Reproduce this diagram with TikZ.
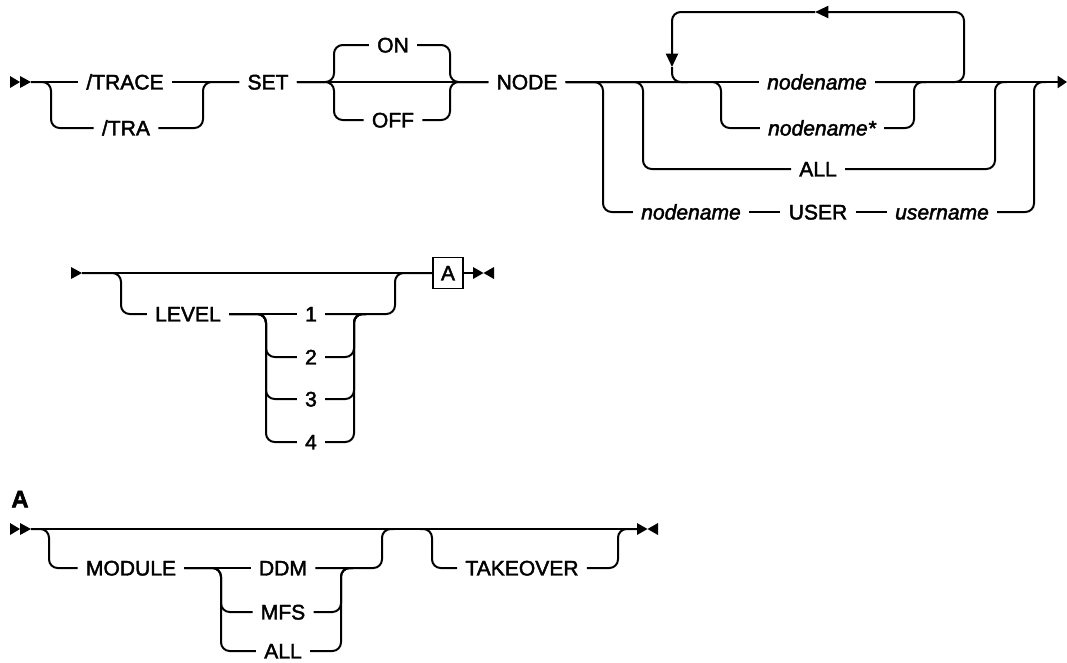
\documentclass[tikz,border=0pt]{standalone}
\usepackage{fontspec}
\setmainfont{Liberation Sans}[FakeBold=2]
\usetikzlibrary{arrows.meta}

\begin{document}
\begin{tikzpicture}[
    x=0.75pt, y=-0.75pt,
    rail/.style={draw=black, line width=1.5pt, rounded corners=6.5pt},
    back/.style={rail, -{Triangle[length=10pt, width=9pt]}},
    kw/.style={font=\fontsize{15.8pt}{18pt}\selectfont, inner xsep=6pt, inner ysep=0pt,
               text height=11.2pt, text depth=0pt},
    var/.style={kw, font=\fontsize{15.8pt}{18pt}\selectfont\itshape},
    frag/.style={kw, draw=black, line width=1.1pt, inner sep=0pt,
                 minimum width=22.5pt, minimum height=23pt},
    head/.style={fill=black},
  ]
  \useasboundingbox[fill=white] (0,0) rectangle (1067,662);
  \begin{scope}
    \fill[head] (10,76) -- (20,82) -- (10,88) -- cycle;
    \fill[head] (20,76) -- (31,82) -- (20,88) -- cycle;
    \coordinate (s1) at (31,82);
    \coordinate (e1) at (1067,82);
    \node[kw] (trace) at (125,82) {/TRACE};
    \node[kw] (tra) at (126,128) {/TRA};
    \node[kw] (set) at (268,82) {SET};
    \node[kw] (on) at (393,45) {ON};
    \node[kw] (off) at (393,120) {OFF};
    \node[kw] (nodekw) at (527,82) {NODE};
    \node[var] (nm) at (817,82) {nodename};
    \node[var] (nmstar) at (822,128) {nodename*};
    \node[kw] (all) at (818,169) {ALL};
    \node[var] (unode) at (691,212) {nodename};
    \node[kw] (user) at (818,212) {USER};
    \node[var] (uname) at (942,212) {username};
    \draw[rail] (s1) -- (trace.west);
    \draw[rail] (s1) -- (51,82) -- (51,128) -- (tra.west);
    \draw[rail] (trace.east) -- (set.west);
    \draw[rail] (tra.east) -- (203,128) -- (203,82) -- (set.west);
    \draw[rail] (set.east) -- (nodekw.west);
    \draw[rail] (set.east) -- (334,82) -- (334,45) -- (on.west);
    \draw[rail] (on.east) -- (450,45) -- (450,82) -- (nodekw.west);
    \draw[rail] (set.east) -- (334,82) -- (334,120) -- (off.west);
    \draw[rail] (off.east) -- (450,120) -- (450,82) -- (nodekw.west);
    \draw[rail] (nodekw.east) -- (nm.west);
    \draw[rail, -{Triangle[length=7pt, width=9pt]}] (nm.east) -- (e1);
    \draw[rail] (nodekw.east) -- (603,82) -- (603,212) -- (unode.west);
    \draw[rail] (unode.east) -- (user.west);
    \draw[rail] (user.east) -- (uname.west);
    \draw[rail] (uname.east) -- (1034,212) -- (1034,82) -- (1046,82);
    \draw[rail] (nodekw.east) -- (643,82) -- (643,169) -- (all.west);
    \draw[rail] (all.east) -- (995,169) -- (995,82) -- (1007,82);
    \draw[rail] (nodekw.east) -- (721,82) -- (721,128) -- (nmstar.west);
    \draw[rail] (nmstar.east) -- (914,128) -- (914,82) -- (926,82);
    \draw[back] (nm.east) -- (964,82) -- (964,12) -- (815,12);
    \draw[back] (815,12) -- (672,12) -- (672,67);
    \draw[rail] (672,67) -- (672,82) -- (688,82);
  \end{scope}
  \begin{scope}
    \fill[head] (71,267) -- (82,273) -- (71,279) -- cycle;
    \coordinate (s2) at (82,273);
    \coordinate (t2) at (473,273);
    \node[kw] (level) at (188,314) {LEVEL};
    \node[kw] (l1) at (311,314) {1};
    \node[kw] (l2) at (311,357) {2};
    \node[kw] (l3) at (311,399) {3};
    \node[kw] (l4) at (311,442) {4};
    \node[frag] (frag) at (448,273) {A};
    \draw[rail] (s2) -- (frag.west);
    \draw[rail] (s2) -- (121,273) -- (121,314) -- (level.west);
    \draw[rail] (level.east) -- (l1.west);
    \draw[rail] (l1.east) -- (395,314) -- (395,273) -- (frag.west);
    \foreach \k/\yy in {2/357, 3/399, 4/442} {
      \draw[rail] (level.east) -- (266,314) -- (266,\yy) -- (l\k.west);
      \draw[rail] (l\k.east) -- (354,\yy) -- (354,314) -- (366,314);
    }
    \draw[rail] (frag.east) -- (t2);
    \fill[head] (473,267) -- (483.5,273) -- (473,279) -- cycle;
    \fill[head] (494,267) -- (483.5,273) -- (494,279) -- cycle;
  \end{scope}
  \begin{scope}
    \node[kw, font=\fontsize{18pt}{20pt}\selectfont\bfseries] (lab) at (20,500) {A};
    \fill[head] (10,523) -- (20,529) -- (10,535) -- cycle;
    \fill[head] (20,523) -- (31,529) -- (20,535) -- cycle;
    \coordinate (s3) at (31,529);
    \coordinate (t3) at (637,529);
    \node[kw] (module) at (131,568) {MODULE};
    \node[kw] (ddm) at (283,568) {DDM};
    \node[kw] (mfs) at (283,612) {MFS};
    \node[kw] (alls) at (283,651) {ALL};
    \node[kw] (takeover) at (522,568) {TAKEOVER};
    \draw[rail] (s3) -- (t3);
    \draw[rail] (s3) -- (49,529) -- (49,568) -- (module.west);
    \draw[rail] (module.east) -- (ddm.west);
    \draw[rail] (ddm.east) -- (382,568) -- (382,529) -- (394,529);
    \foreach \n/\yy in {mfs/612, alls/651} {
      \draw[rail] (module.east) -- (221,568) -- (221,\yy) -- (\n.west);
      \draw[rail] (\n.east) -- (341,\yy) -- (341,568) -- (353,568);
    }
    \draw[rail] (420,529) -- (432,529) -- (432,568) -- (takeover.west);
    \draw[rail] (takeover.east) -- (618,568) -- (618,529) -- (t3);
    \fill[head] (637,523) -- (647.5,529) -- (637,535) -- cycle;
    \fill[head] (658,523) -- (647.5,529) -- (658,535) -- cycle;
  \end{scope}
\end{tikzpicture}
\end{document}
